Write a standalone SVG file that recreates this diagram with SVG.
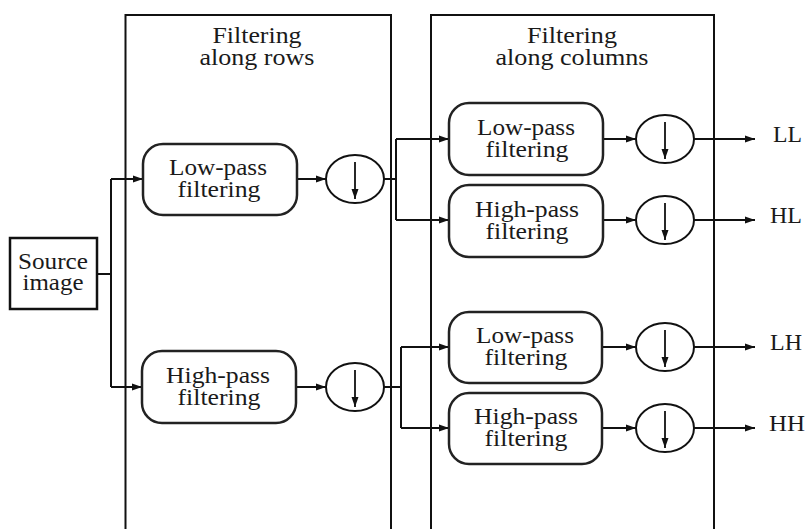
<svg xmlns="http://www.w3.org/2000/svg" width="807" height="529" viewBox="0 0 807 529">
  <style>
    .panel { fill: none; stroke: #111; stroke-width: 2; }
    .box { fill: #fff; stroke: #222; stroke-width: 2.5; }
    .src { fill: #fff; stroke: #111; stroke-width: 2.5; }
    .ds { fill: #fff; stroke: #111; stroke-width: 2; }
    .wire { fill: none; stroke: #111; stroke-width: 2; }
    .arr { fill: none; stroke: #111; stroke-width: 2; marker-end: url(#head); }
    .dn { fill: none; stroke: #111; stroke-width: 1.8; marker-end: url(#head); }
    text { font-family: "Liberation Serif", "Times New Roman", serif; font-size: 23px; fill: #1a1a1a; text-anchor: middle; }
    .o { text-anchor: start; }
  </style>
  <defs>
    <marker id="head" markerUnits="userSpaceOnUse" markerWidth="11" markerHeight="8" refX="10" refY="4" orient="auto">
      <path d="M0,0.5 L10,4 L0,7.5 z" fill="#111"/>
    </marker>
  </defs>

  <!-- processing stages -->
  <g id="stage-rows">
    <rect class="panel" x="125.5" y="15" width="265.5" height="540"/>
    <text x="257" y="43" textLength="89" lengthAdjust="spacingAndGlyphs">Filtering</text>
    <text x="257" y="65" textLength="115" lengthAdjust="spacingAndGlyphs">along rows</text>
  </g>
  <g id="stage-columns">
    <rect class="panel" x="431" y="15" width="283" height="540"/>
    <text x="572" y="43" textLength="90" lengthAdjust="spacingAndGlyphs">Filtering</text>
    <text x="572" y="65" textLength="153" lengthAdjust="spacingAndGlyphs">along columns</text>
  </g>

  <!-- connectors -->
  <g id="connectors">
    <path class="wire" d="M97,274 H111 M111,179 V387"/>
    <path class="arr" d="M111,179 H143"/>
    <path class="arr" d="M111,387 H142"/>
    <path class="arr" d="M297,179 H326"/>
    <path class="arr" d="M296,387 H326"/>
    <path class="wire" d="M384,179 H396 M396,139 V220"/>
    <path class="arr" d="M396,139 H449"/>
    <path class="arr" d="M396,220 H449"/>
    <path class="wire" d="M384,387 H401 M401,347 V428"/>
    <path class="arr" d="M401,347 H449"/>
    <path class="arr" d="M401,428 H449"/>
    <path class="arr" d="M603,139 H636"/>
    <path class="arr" d="M603,220 H636"/>
    <path class="arr" d="M602,347 H636"/>
    <path class="arr" d="M602,428 H636"/>
    <path class="arr" d="M694,139 H755"/>
    <path class="arr" d="M694,220 H755"/>
    <path class="arr" d="M694,347 H755"/>
    <path class="arr" d="M694,428 H755"/>
  </g>

  <!-- input -->
  <g id="source">
    <rect class="src" x="10" y="238" width="87" height="71"/>
    <text x="53" y="269" textLength="70" lengthAdjust="spacingAndGlyphs">Source</text>
    <text x="53" y="290" textLength="61" lengthAdjust="spacingAndGlyphs">image</text>
  </g>

  <!-- row filters -->
  <g id="row-lowpass">
    <rect class="box" x="143" y="144" width="154" height="71" rx="20"/>
    <text x="218" y="175" textLength="98" lengthAdjust="spacingAndGlyphs">Low-pass</text>
    <text x="219" y="197" textLength="83" lengthAdjust="spacingAndGlyphs">filtering</text>
  </g>
  <g id="row-highpass">
    <rect class="box" x="142" y="351" width="154" height="72" rx="20"/>
    <text x="218" y="382.5" textLength="104" lengthAdjust="spacingAndGlyphs">High-pass</text>
    <text x="219" y="404.5" textLength="83" lengthAdjust="spacingAndGlyphs">filtering</text>
  </g>
  <g id="row-down-low">
    <ellipse class="ds" cx="355" cy="179" rx="29" ry="24"/>
    <path class="dn" d="M355,162 V199"/>
  </g>
  <g id="row-down-high">
    <ellipse class="ds" cx="355" cy="387" rx="29" ry="24"/>
    <path class="dn" d="M355,370 V407"/>
  </g>

  <!-- column filters -->
  <g id="col-lowpass-1">
    <rect class="box" x="449" y="103" width="154" height="72" rx="20"/>
    <text x="526" y="134.5" textLength="98" lengthAdjust="spacingAndGlyphs">Low-pass</text>
    <text x="527" y="156.5" textLength="83" lengthAdjust="spacingAndGlyphs">filtering</text>
  </g>
  <g id="col-highpass-1">
    <rect class="box" x="449" y="185" width="154" height="72" rx="20"/>
    <text x="527" y="216.5" textLength="104" lengthAdjust="spacingAndGlyphs">High-pass</text>
    <text x="527" y="238.5" textLength="83" lengthAdjust="spacingAndGlyphs">filtering</text>
  </g>
  <g id="col-lowpass-2">
    <rect class="box" x="449" y="312" width="153" height="71" rx="20"/>
    <text x="525" y="343" textLength="98" lengthAdjust="spacingAndGlyphs">Low-pass</text>
    <text x="526" y="365" textLength="83" lengthAdjust="spacingAndGlyphs">filtering</text>
  </g>
  <g id="col-highpass-2">
    <rect class="box" x="449" y="393" width="153" height="71" rx="20"/>
    <text x="526" y="424" textLength="104" lengthAdjust="spacingAndGlyphs">High-pass</text>
    <text x="526" y="446" textLength="83" lengthAdjust="spacingAndGlyphs">filtering</text>
  </g>
  <g id="col-down-ll">
    <ellipse class="ds" cx="665" cy="139" rx="29" ry="24"/>
    <path class="dn" d="M665,122 V159"/>
  </g>
  <g id="col-down-hl">
    <ellipse class="ds" cx="665" cy="220" rx="29" ry="24"/>
    <path class="dn" d="M665,203 V240"/>
  </g>
  <g id="col-down-lh">
    <ellipse class="ds" cx="665" cy="347" rx="29" ry="24"/>
    <path class="dn" d="M665,330 V367"/>
  </g>
  <g id="col-down-hh">
    <ellipse class="ds" cx="665" cy="428" rx="29" ry="24"/>
    <path class="dn" d="M665,411 V448"/>
  </g>

  <!-- subbands -->
  <g id="out-ll"><text class="o" x="773" y="142" textLength="29" lengthAdjust="spacingAndGlyphs">LL</text></g>
  <g id="out-hl"><text class="o" x="770" y="223" textLength="32" lengthAdjust="spacingAndGlyphs">HL</text></g>
  <g id="out-lh"><text class="o" x="770" y="350" textLength="32" lengthAdjust="spacingAndGlyphs">LH</text></g>
  <g id="out-hh"><text class="o" x="769" y="431" textLength="36" lengthAdjust="spacingAndGlyphs">HH</text></g>
</svg>
